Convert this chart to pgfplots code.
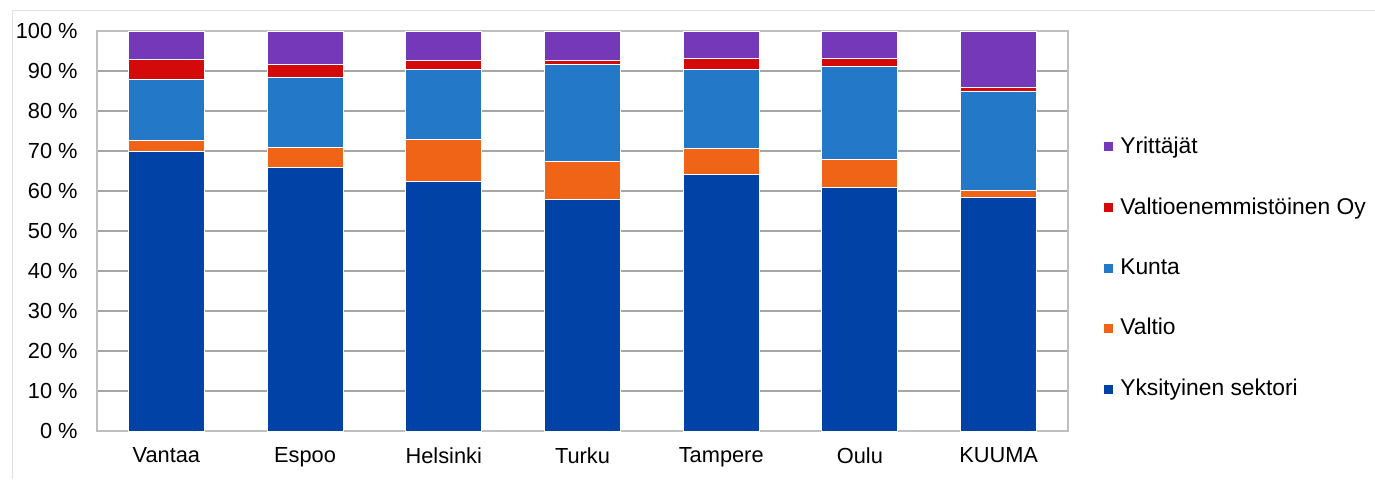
\documentclass[border=0pt]{standalone}
\usepackage{pgfplots}
\pgfplotsset{compat=1.18}
\usepackage{fontspec}
\setmainfont{Liberation Sans}
\definecolor{cYks}{HTML}{0042A5}
\definecolor{cVal}{HTML}{F06418}
\definecolor{cKun}{HTML}{2378C8}
\definecolor{cVoy}{HTML}{D40A0A}
\definecolor{cYri}{HTML}{7438B9}
\definecolor{cGrid}{HTML}{A6A6A6}
\definecolor{cFrame}{HTML}{BFBFBF}
\begin{document}
\fontsize{10.75}{13}\selectfont
\begin{tikzpicture}
\useasboundingbox (0,0) rectangle (687.5pt,239.5pt);
\draw[black!12, line width=0.5pt] (6pt,0) -- (6pt,234.5pt) -- (687.5pt,234.5pt);
\begin{axis}[
  at={(48.5pt,24pt)}, anchor=south west,
  scale only axis, width=485.5pt, height=200pt,
  ybar stacked, bar width=38pt,
  xmin=-0.5, xmax=6.5, ymin=0, ymax=100,
  xtick={0,1,2,3,4,5,6},
  xticklabels={Vantaa,Espoo,Helsinki,Turku,Tampere,Oulu,KUUMA},
  ytick={0,10,...,100},
  yticklabels={0 \%,10 \%,20 \%,30 \%,40 \%,50 \%,60 \%,70 \%,80 \%,90 \%,100 \%},
  major tick length=0pt,
  ymajorgrids, grid style={cGrid, line width=0.6pt},
  axis line style={cFrame, line width=0.6pt},
  axis on top=false,
  tick label style={font=\fontsize{10.9}{13}\selectfont},
  yticklabel style={inner sep=0pt, xshift=-9.5pt},
  xticklabel style={inner sep=0pt, yshift=-8pt},
  every axis plot/.append style={draw=white, line width=0.5pt},
  reverse legend,
  legend style={draw=none, fill=none, at={(1.037,0.4075)}, anchor=west,
    font=\fontsize{11.4}{13}\selectfont, row sep=20.5pt, inner sep=0pt,
    nodes={inner sep=0pt, anchor=west}},
  legend cell align=left,
  legend image code/.code={\fill[#1,draw=none] (0pt,-2.25pt) rectangle (4.5pt,2.25pt);},
]
\addplot[fill=cYks] coordinates {(0,69.8) (1,65.9) (2,62.4) (3,58.0) (4,64.2) (5,60.8) (6,58.4)};
\addlegendentry{\hspace{3.5pt}Yksityinen sektori}
\addplot[fill=cVal] coordinates {(0,2.9) (1,5.1) (2,10.6) (3,9.3) (4,6.5) (5,7.1) (6,1.85)};
\addlegendentry{\hspace{3.5pt}Valtio}
\addplot[fill=cKun] coordinates {(0,15.2) (1,17.5) (2,17.5) (3,24.3) (4,19.7) (5,23.2) (6,24.65)};
\addlegendentry{\hspace{3.5pt}Kunta}
\addplot[fill=cVoy] coordinates {(0,5.1) (1,3.1) (2,2.25) (3,1.1) (4,2.8) (5,2.1) (6,1.0)};
\addlegendentry{\hspace{3.5pt}Valtioenemmistöinen Oy}
\addplot[fill=cYri] coordinates {(0,7.0) (1,8.4) (2,7.25) (3,7.3) (4,6.8) (5,6.8) (6,14.1)};
\addlegendentry{\hspace{3.5pt}Yrittäjät}
\end{axis}
\end{tikzpicture}
\end{document}
